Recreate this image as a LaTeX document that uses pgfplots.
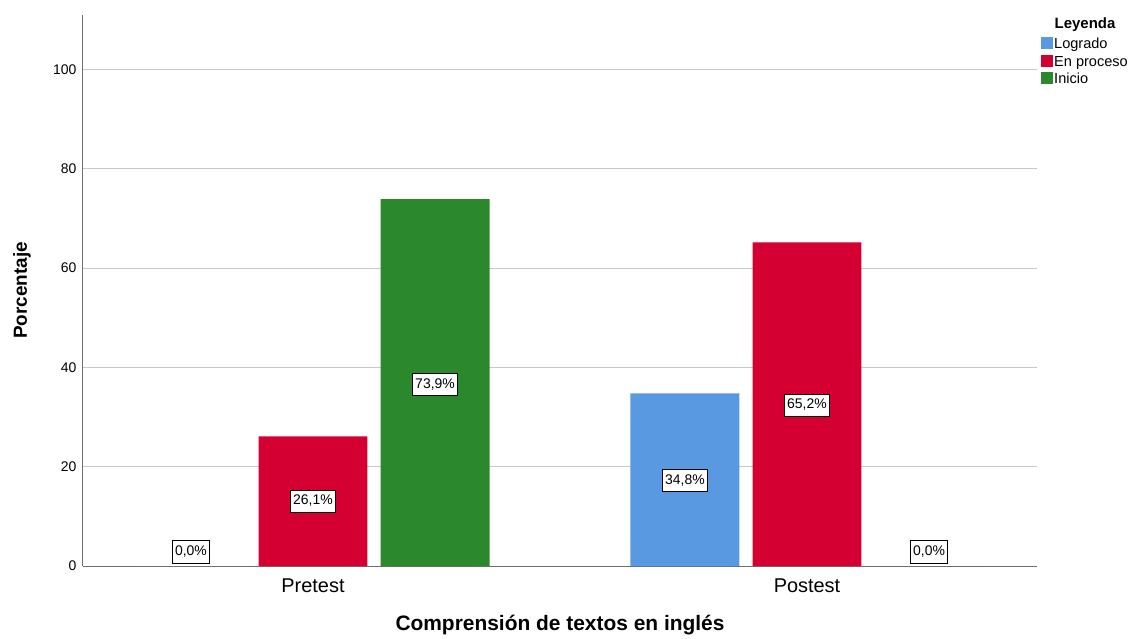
\documentclass[border=0pt]{standalone}
\usepackage{fontspec}
\setmainfont{Liberation Sans}
\usepackage{pgfplots}
\pgfplotsset{compat=1.18}
\definecolor{logr}{HTML}{5899E2}
\definecolor{proc}{HTML}{D50032}
\definecolor{inic}{HTML}{2C882C}
\definecolor{gridc}{HTML}{C8C8C8}
\definecolor{axc}{HTML}{6E6E6E}
\pgfplotsset{sq legend/.style={legend image code/.code={\fill[##1] (0bp,-4bp) rectangle (12bp,8bp);}}}
\begin{document}
\begin{tikzpicture}
\begin{axis}[
  name=ax,
  scale only axis, width=954bp, height=551bp,
  xmin=-0.4656, xmax=1.4656, ymin=0, ymax=111,
  axis x line*=bottom, axis y line*=left,
  axis line style={draw=axc, line width=1bp},
  xtick={0,1}, xticklabels={Pretest,Postest},
  ytick={0,20,40,60,80,100},
  ymajorgrids, grid style={draw=gridc, line width=1bp},
  major tick length=0pt,
  /pgf/number format/assume math mode=true,
  yticklabel style={font=\fontsize{14}{16}\selectfont, xshift=-3bp},
  xticklabel style={font=\fontsize{20}{22}\selectfont, anchor=base, yshift=-26bp},
  xlabel={Comprensión de textos en inglés},
  ylabel={Porcentaje},
  xlabel style={font=\bfseries\fontsize{21}{24}\selectfont, at={([yshift=-59bp]axis description cs:0.5,0)}, anchor=center},
  ylabel style={font=\bfseries\fontsize{19}{22}\selectfont, at={([xshift=-61bp]axis description cs:0,0.5)}, anchor=center},
  clip=false,
  legend style={at={(1,1)}, anchor=north west, xshift=4bp, yshift=-22bp, draw=none, fill=none,
    font=\fontsize{14.6}{16}\selectfont, inner sep=0pt, row sep=2bp,
    nodes={inner sep=1bp, text height=10bp, text depth=3bp}},
  legend cell align=left,
]
\addplot[ybar, bar width=0.2206, bar shift=-0.247, fill=logr, draw=none, sq legend] coordinates {(0,0) (1,34.8)};
\addplot[ybar, bar width=0.2206, bar shift=0, fill=proc, draw=none, sq legend] coordinates {(0,26.1) (1,65.2)};
\addplot[ybar, bar width=0.2206, bar shift=0.247, fill=inic, draw=none, sq legend] coordinates {(0,73.9) (1,0)};
\legend{Logrado, En proceso, Inicio}
\addplot[draw=none, mark=none, forget plot, nodes near coords, point meta=explicit symbolic,
  nodes near coords style={anchor=center, fill=white, draw=black, line width=0.8bp,
    font=\fontsize{14}{16}\selectfont, inner xsep=2.5bp, inner ysep=5bp, text height=10bp, text depth=2.5bp}]
  coordinates {(-0.247,2.8) [0,0\%] (0,13.05) [26,1\%] (0.247,36.6) [73,9\%]
               (0.753,17.2) [34,8\%] (1,32.4) [65,2\%] (1.247,2.8) [0,0\%]};
\node[font=\bfseries\fontsize{15}{17}\selectfont, anchor=center] at ([xshift=48bp,yshift=-10bp]axis description cs:1,1) {Leyenda};
\end{axis}
\path[use as bounding box] ([xshift=-83bp,yshift=-71bp]ax.south west) rectangle ([xshift=94bp,yshift=15bp]ax.north east);
\end{tikzpicture}
\end{document}
